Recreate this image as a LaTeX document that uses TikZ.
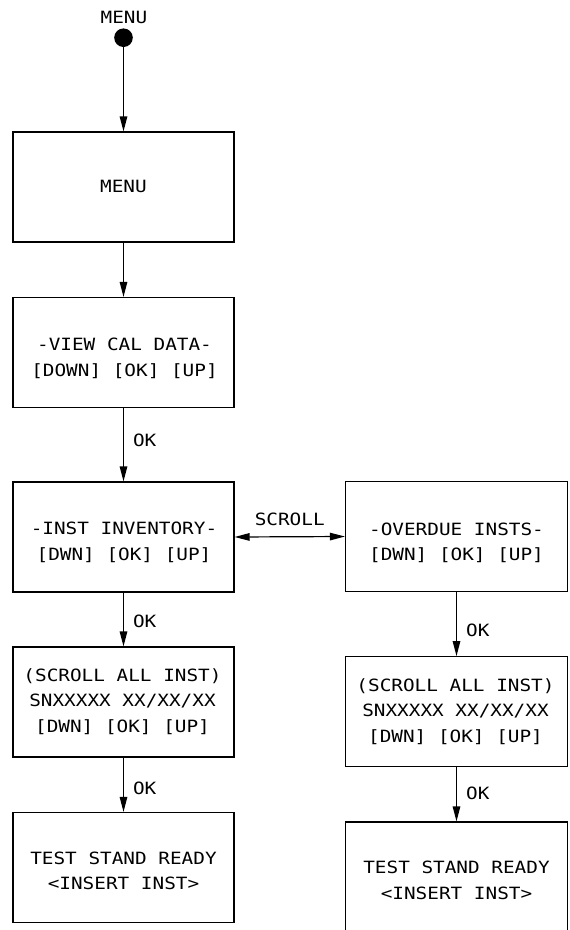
\documentclass[tikz,border=0pt]{standalone}
\usepackage{fontspec}
\newfontfamily\cadfont[FakeStretch=1.145]{DejaVu Sans Mono}
\usetikzlibrary{arrows.meta}
\newcommand\capstrut{\rule[-5pt]{0pt}{17.32pt}}
\tikzset{
  cad/.style={font=\cadfont\fontsize{16.9}{25.5}\selectfont},
  stbox/.style={draw, line width=1.2pt, minimum width=221pt, minimum height=110pt, inner sep=0pt},
  txt/.style={cad, inner sep=0pt, align=center, yshift=-3pt},
  flow/.style={line width=1.2pt, -{Triangle[length=15pt,width=7.5pt]}},
  lbl/.style={cad, inner sep=0pt, anchor=west, xshift=9pt},
}
\begin{document}
\begin{tikzpicture}[x=1pt,y=-1pt]
\useasboundingbox (0,0) rectangle (570,930);
% boxes
\node[cad, inner sep=0pt] (startlbl) at (124,17) {MENU};
\node[circle, fill, inner sep=0pt, minimum size=18.6pt] (start) at (123.5,37.7) {};
\node[stbox] (menu) at (123.5,187) {};
\node[stbox] (view) at (123.5,352.5) {};
\node[stbox] (inv) at (123.5,537) {};
\node[stbox] (scrl) at (123.5,702) {};
\node[stbox] (test) at (123.5,867.5) {};
\node[stbox, minimum width=222pt] (over) at (456.5,536.5) {};
\node[stbox, minimum width=222pt] (scrr) at (456.5,711.7) {};
\node[stbox, minimum width=222pt] (testr) at (456.5,877) {};
% texts
\node[txt] (menu-t) at (123.5,186) {\capstrut MENU};
\node[txt] (view-t) at (124.5,356.5) {\capstrut -VIEW CAL DATA-\\\capstrut [DOWN] [OK] [UP]};
\node[txt] (inv-t) at (124,540.5) {\capstrut -INST INVENTORY-\\\capstrut [DWN] [OK] [UP]};
\node[txt] (scrl-t) at (122.5,700) {\capstrut (SCROLL ALL INST)\\\capstrut SNXXXXX XX/XX/XX\\\capstrut [DWN] [OK] [UP]};
\node[txt] (test-t) at (123.5,870) {\capstrut TEST STAND READY\\\capstrut <INSERT INST>};
\node[txt] (over-t) at (456.5,541) {\capstrut -OVERDUE INSTS-\\\capstrut [DWN] [OK] [UP]};
\node[txt] (scrr-t) at (455.5,710) {\capstrut (SCROLL ALL INST)\\\capstrut SNXXXXX XX/XX/XX\\\capstrut [DWN] [OK] [UP]};
\node[txt] (testr-t) at (456.5,879.7) {\capstrut TEST STAND READY\\\capstrut <INSERT INST>};
% connectors
\draw[flow] (start) -- (menu);
\draw[flow] (menu) -- (view);
\draw[flow] (view) -- node[lbl, pos=0.44] (ok1) {OK} (inv);
\draw[flow] (inv) -- node[lbl, pos=0.54] (ok2) {OK} (scrl);
\draw[flow] (scrl) -- node[lbl, pos=0.57] (ok3) {OK} (test);
\draw[flow] (over) -- node[lbl, pos=0.59] (ok4) {OK} (scrr);
\draw[flow] (scrr) -- node[lbl, pos=0.48] (ok5) {OK} (testr);
\draw[line width=1.2pt, {Triangle[length=15pt,width=7.5pt]}-{Triangle[length=15pt,width=7.5pt]}] (inv.east) -- node[cad, inner sep=0pt, yshift=17pt] (scroll) {SCROLL} (over.west);
\end{tikzpicture}
\end{document}
